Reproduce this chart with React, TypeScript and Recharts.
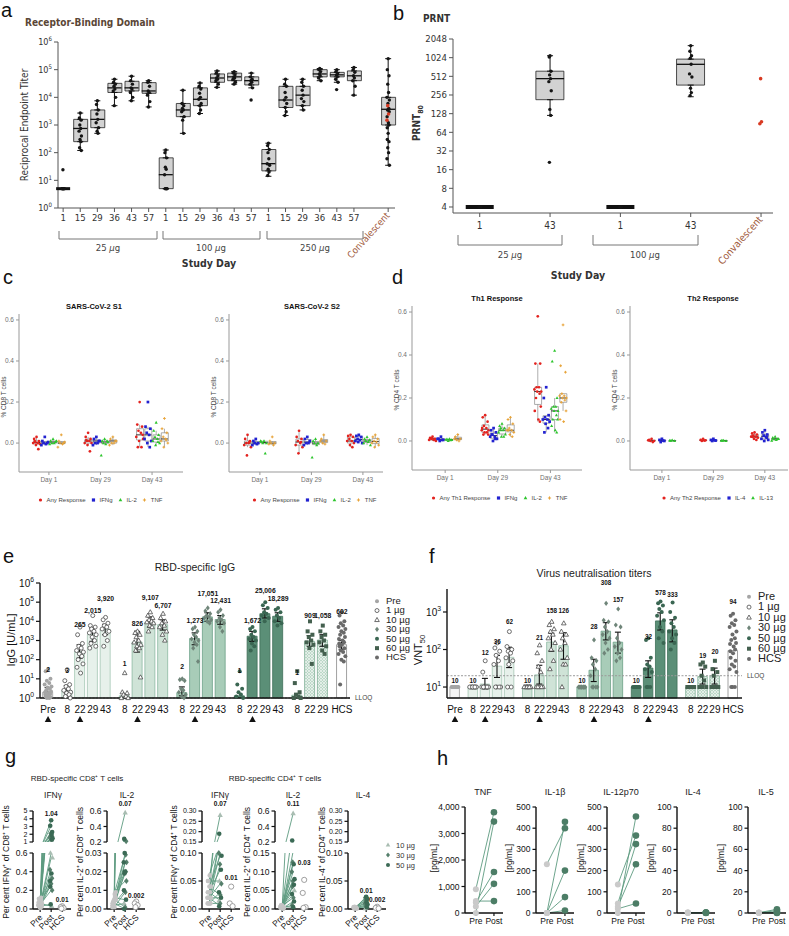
import React from 'react';
import { ComposedChart, Bar, Scatter, XAxis, YAxis, ErrorBar, ReferenceLine, ReferenceDot, Line, Cell } from 'recharts';

const SANS = "'Liberation Sans', Arial, Helvetica, sans-serif";
const NARROW = "'Liberation Sans Narrow', 'DejaVu Sans Condensed', 'Liberation Sans', sans-serif";

/* ---------------- a: Receptor-Binding Domain ---------------- */
const aDays = ['1', '15', '29', '36', '43', '57'];
const aDoses = ['25 µg', '100 µg', '250 µg'];
const aCats = [...aDays, ...aDays, ...aDays, '', 'Convalescent'];
// [low whisker, Q1, median, Q3, high whisker]
const aBox25 = [[5, 5, 5, 5, 5], [120, 250, 750, 1600, 2700], [500, 800, 1600, 3500, 7500], [5000, 15000, 22000, 32000, 45000], [7500, 17000, 22000, 38000, 58000], [4500, 14000, 17000, 34000, 40000]];
const aBox100 = [[5, 5, 16, 65, 125], [500, 2000, 3500, 6000, 18000], [2600, 5000, 8500, 22000, 33000], [23000, 35000, 50000, 70000, 90000], [30000, 40000, 55000, 75000, 85000], [22000, 28000, 40000, 55000, 75000]];
const aBox250 = [[14, 22, 40, 130, 220], [2200, 4300, 8000, 25000, 45000], [3500, 5000, 12000, 25000, 45000], [40000, 55000, 70000, 100000, 110000], [35000, 55000, 65000, 80000, 100000], [12000, 40000, 60000, 90000, 120000]];
const aBoxConv = [35, 1000, 3700, 10000, 250000];
const aPts25 = [
  [5, 5, 5, 5, 5, 5, 5, 24],
  [2700, 1800, 1500, 1000, 750, 600, 400, 300, 250, 150, 120],
  [7500, 5500, 3500, 2500, 1600, 1200, 800, 600, 500],
  [45000, 35000, 30000, 25000, 20000, 17000, 10000, 5000],
  [58000, 40000, 30000, 22000, 20000, 15000, 10000, 7500],
  [40000, 35000, 25000, 17000, 15000, 12000, 7000, 4500],
];
const aPts100 = [
  [125, 100, 65, 30, 25, 16, 5, 5, 5, 5, 5],
  [18000, 6000, 5000, 4000, 3500, 3000, 2000, 1500, 500],
  [33000, 25000, 20000, 14000, 10000, 8500, 6000, 5000, 3500, 2600],
  [90000, 75000, 60000, 50000, 45000, 40000, 30000, 23000],
  [85000, 75000, 65000, 55000, 50000, 45000, 35000, 30000],
  [75000, 55000, 45000, 40000, 35000, 30000, 22000, 8000],
];
const aPts250 = [
  [220, 180, 130, 100, 60, 40, 35, 25, 20, 15],
  [45000, 30000, 25000, 15000, 10000, 8000, 6000, 4300, 3000, 2200],
  [45000, 35000, 25000, 18000, 12000, 9000, 7000, 5000, 3500],
  [110000, 100000, 85000, 70000, 60000, 50000, 40000],
  [100000, 85000, 70000, 65000, 55000, 45000, 35000, 19000],
  [120000, 100000, 80000, 60000, 50000, 40000, 25000, 12000],
];
const aPtsConv = [250000, 100000, 60000, 30000, 15000, 10000, 8000, 6000, 4000, 3500, 3000, 2000, 1200, 1000, 800, 500, 300, 250, 150, 100, 60, 35];
const aRedConv = [5000, 2500, 1500];
const aYTicks = [1, 10, 100, 1000, 10000, 100000, 1000000];

/* ---------------- b: PRNT ---------------- */
const bCats = ['1', '43', '1', '43', 'Convalescent'];
const bDoses = ['25 µg', '100 µg'];
const bBox = [[4, 4, 4, 4, 4], [120, 215, 470, 620, 1100], [4, 4, 4, 4, 4], [240, 370, 800, 970, 1600], null];
const bPts = [
  [4, 4, 4, 4, 4, 4, 4, 4],
  [1100, 1050, 620, 540, 470, 420, 300, 150, 120, 21],
  [4, 4, 4, 4, 4, 4, 4, 4],
  [1600, 1300, 1100, 1000, 800, 560, 500, 330, 280, 250],
  [],
];
const bConv = [470, 95, 88];
const bYTicks = [4, 8, 16, 32, 64, 128, 256, 512, 1024, 2048];

/* ---------------- c / d: T-cell responses ---------------- */
const cDays = ['Day 1', 'Day 29', 'Day 43'];
const c1Any = [[0.03, 0.02, 0.01, 0.005, 0, 0, -0.005, -0.01, -0.03, 0.01], [0.05, 0.03, 0.02, 0.01, 0.01, 0, 0, -0.01, -0.04, 0.015], [0.2, 0.09, 0.08, 0.06, 0.05, 0.03, 0.02, 0.01, -0.02, -0.02, 0.04]];
const c1Ifn = [[0.03, 0.01, 0, 0, -0.005, -0.01, 0.005], [0.03, 0.02, 0.01, 0, 0, -0.01, 0.01], [0.2, 0.08, 0.07, 0.05, 0.04, 0.02, 0.01, 0, -0.02]];
const c1Il2 = [[0.02, 0.01, 0.005, 0, 0, -0.005, 0.01], [0.02, 0.01, 0.01, 0, -0.005, -0.06, 0.005], [0.1, 0.06, 0.04, 0.03, 0.02, 0.01, 0, -0.01, 0.005]];
const c1Tnf = [[0.04, 0.01, 0, 0, -0.005, -0.02, 0.005], [0.03, 0.02, 0.01, 0, 0, -0.01, 0.01], [0.12, 0.07, 0.05, 0.03, 0.02, 0.01, 0, -0.02, 0.015]];
const c2Any = [[0.04, 0.02, 0.01, 0, 0, -0.01, -0.02, -0.06, 0.005], [0.06, 0.03, 0.02, 0.01, 0, -0.01, -0.02, -0.05, 0.005], [0.04, 0.035, 0.03, 0.02, 0.01, 0.01, 0, -0.01, -0.02]];
const c2Ifn = [[0.02, 0.01, 0, 0, -0.005, -0.01], [0.03, 0.02, 0.01, 0, 0, -0.01], [0.04, 0.035, 0.03, 0.02, 0.015, 0.01, 0, 0.005]];
const c2Il2 = [[0.01, 0.005, 0, 0, -0.05, 0.01], [0.02, 0.01, 0, 0, -0.01, -0.07], [0.03, 0.02, 0.015, 0.01, 0.005, 0, -0.01]];
const c2Tnf = [[0.03, 0.01, 0, 0, -0.01, -0.005], [0.04, 0.02, 0.01, 0, -0.005, 0.01], [0.04, 0.03, 0.02, 0.01, 0.005, 0, -0.01, -0.02]];
const d1Any = [[0.02, 0.015, 0.01, 0.01, 0.005, 0.005, 0, 0.012], [0.12, 0.11, 0.09, 0.07, 0.06, 0.05, 0.05, 0.04, 0.04, 0.03, 0.03, 0.06], [0.58, 0.36, 0.36, 0.25, 0.25, 0.24, 0.23, 0.23, 0.22, 0.2, 0.16, 0.14, 0.1, 0.09]];
const d1Ifn = [[0.02, 0.01, 0.005, 0, 0.005, 0.01], [0.06, 0.05, 0.04, 0.03, 0.02, 0.02, 0.01, 0, 0.01, 0.03], [0.25, 0.2, 0.12, 0.11, 0.1, 0.1, 0.09, 0.08, 0.06, 0.04]];
const d1Il2 = [[0.01, 0.008, 0.005, 0, 0.004, 0.006], [0.08, 0.07, 0.06, 0.06, 0.05, 0.04, 0.03, 0.02, 0.02, 0.05], [0.42, 0.37, 0.2, 0.16, 0.16, 0.15, 0.14, 0.14, 0.12, 0.1, 0.1, 0.07, 0.05, 0.04]];
const d1Tnf = [[0.03, 0.02, 0.01, 0.005, 0, 0.01], [0.11, 0.1, 0.08, 0.06, 0.05, 0.05, 0.04, 0.03, 0.02, 0.05], [0.54, 0.35, 0.32, 0.22, 0.21, 0.21, 0.2, 0.2, 0.19, 0.18, 0.14, 0.1, 0.09]];
const d2Any = [[0.01, 0.005, 0, 0, -0.005, 0.003], [0.01, 0.005, 0.003, 0, 0.002], [0.04, 0.035, 0.03, 0.025, 0.02, 0.02, 0.015, 0.01, 0.005, 0.02]];
const d2Il4 = [[0.01, 0.005, 0, -0.005, 0.002], [0.01, 0.005, 0.002, 0, 0.003], [0.05, 0.04, 0.03, 0.025, 0.02, 0.01, 0.005, 0, 0.015]];
const d2Il13 = [[0.004, 0.002, 0, 0.001], [0.003, 0.002, 0, 0.001], [0.02, 0.015, 0.01, 0.008, 0.005, 0.002, 0.01]];

const RED = '#e3231f', BLUE = '#2222d0', GREEN = '#2dc52d', ORANGE = '#e7a338';
const cSeries1 = [
  { name: 'Any Response', color: RED, kind: 'circle', days: c1Any },
  { name: 'IFNg', color: BLUE, kind: 'square', days: c1Ifn },
  { name: 'IL-2', color: GREEN, kind: 'tri', days: c1Il2 },
  { name: 'TNF', color: ORANGE, kind: 'plus', days: c1Tnf },
];
const cSeries2 = [
  { name: 'Any Response', color: RED, kind: 'circle', days: c2Any },
  { name: 'IFNg', color: BLUE, kind: 'square', days: c2Ifn },
  { name: 'IL-2', color: GREEN, kind: 'tri', days: c2Il2 },
  { name: 'TNF', color: ORANGE, kind: 'plus', days: c2Tnf },
];
const dSeries1 = [
  { name: 'Any Th1 Response', color: RED, kind: 'circle', days: d1Any },
  { name: 'IFNg', color: BLUE, kind: 'square', days: d1Ifn },
  { name: 'IL-2', color: GREEN, kind: 'tri', days: d1Il2 },
  { name: 'TNF', color: ORANGE, kind: 'plus', days: d1Tnf },
];
const dSeries2 = [
  { name: 'Any Th2 Response', color: RED, kind: 'circle', days: d2Any },
  { name: 'IL-4', color: BLUE, kind: 'square', days: d2Il4 },
  { name: 'IL-13', color: GREEN, kind: 'tri', days: d2Il13 },
];

/* ---------------- e / f: IgG and neutralisation ---------------- */
const vCats = ['Pre', '', '8', '22', '29', '43', '', '8', '22', '29', '43', '', '8', '22', '29', '43', '', '8', '22', '29', '43', '', '8', '22', '29', '', 'HCS'];
const vGrp = [0, -1, 1, 1, 1, 1, -1, 2, 2, 2, 2, -1, 3, 3, 3, 3, -1, 4, 4, 4, 4, -1, 5, 5, 5, -1, 6];
const vArrow = [true, false, false, true, false, false, false, false, true, false, false, false, false, true, false, false, false, false, true, false, false, false, false, false, false, false, false];
const vLegend = ['Pre', '1 µg', '10 µg', '30 µg', '50 µg', '60 µg', 'HCS'];

const eBar = [2, null, 2.5, 265, 2015, 3920, null, 1.3, 826, 9107, 6707, null, 1.9, 1273, 17051, 12431, null, 1.3, 1672, 25006, 18289, null, 1.4, 909, 1058, null, 602];
const eLbl = ['2', '', '3', '265', '2,015', '3,920', '', '1', '826', '9,107', '6,707', '', '2', '1,273', '17,051', '12,431', '', '1', '1,672', '25,006', '18,289', '', '1', '909', '1,058', '', '602'];
const eLblY = [29, null, 25.5, 7150, 38300, 161000, null, 66, 8060, 182000, 69800, null, 41, 11500, 294000, 127000, null, 25.5, 11500, 422000, 161000, null, 20, 21000, 21000, null, 34000];
const eErr = [[1.2, 3.5], null, [1.8, 4.5], [120, 600], [900, 4500], [2000, 7000], null, null, [250, 3000], [5000, 17000], [3500, 12000], null, [1.3, 3.8], [600, 2500], [10000, 28000], [7000, 20000], null, null, [900, 3000], [15000, 45000], [10000, 28000], null, null, [500, 1800], [500, 2000], null, [350, 1000]];
const ePts = [
  [30, 25, 10, 8, 6, 5, 4, 3.5, 3, 2.5, 2.2, 2, 1.8, 1.6, 1.5, 1.3, 1.2, 1.1, 1, 1], [],
  [30, 8, 5, 4, 3, 2.5, 2, 1.8, 1.5, 1.2, 1],
  [5000, 2000, 700, 500, 400, 300, 250, 200, 150, 100, 60, 40, 20],
  [20000, 6000, 5000, 4000, 3000, 2500, 2000, 1500, 1000, 700, 500, 400],
  [16000, 12000, 8000, 6000, 5000, 4000, 3000, 2000, 1000, 500], [],
  [20, 2, 1.8, 1.5, 1.2, 1, 1],
  [3000, 2500, 2000, 1500, 1000, 800, 600, 500, 400, 300, 12],
  [30000, 20000, 15000, 12000, 10000, 9000, 8000, 6000, 5000, 3000],
  [25000, 15000, 10000, 8000, 6000, 5000, 3000, 2000, 1000], [],
  [10, 9, 8, 3, 2.5, 2, 1.5, 1.2, 1],
  [5000, 4000, 3000, 2000, 1500, 1200, 1000, 800, 600, 400, 80],
  [50000, 35000, 25000, 20000, 17000, 15000, 12000, 10000, 8000],
  [40000, 30000, 20000, 15000, 12000, 10000, 8000, 5000, 3000], [],
  [25, 5, 3, 2, 1.5, 1.2, 1],
  [5000, 4000, 3000, 2000, 1500, 1200, 1000, 700, 500, 300],
  [100000, 70000, 50000, 30000, 25000, 20000, 15000, 10000],
  [50000, 40000, 30000, 20000, 15000, 10000, 8000, 6000], [],
  [25, 6, 2, 1.5, 1.2, 1, 1],
  [10000, 3000, 2000, 1500, 1000, 800, 600, 400, 60],
  [6000, 3000, 2000, 1500, 1000, 800, 500, 300, 200], [],
  [30000, 20000, 10000, 8000, 6000, 5000, 4000, 3000, 2500, 2000, 1500, 1200, 1000, 800, 700, 600, 500, 400, 300, 250, 200, 150, 100, 80, 5],
];
const eYTicks = [1, 10, 100, 1000, 10000, 100000, 1000000];

const fBar = [10, null, 10, 12, 36, 62, null, 10, 21, 158, 126, null, 10, 28, 308, 157, null, 10, 32, 578, 333, null, 10, 19, 20, null, 94];
const fLbl = ['10', '', '10', '12', '36', '62', '', '10', '21', '158', '126', '', '10', '28', '308', '157', '', '10', '32', '578', '333', '', '10', '19', '20', '', '94'];
const fLblY = [14.5, null, 14.5, 80, 158, 540, null, 14.5, 205, 1070, 1070, null, 14.5, 400, 5900, 2090, null, 14.5, 215, 3240, 2820, null, 14.5, 67, 86, null, 1860];
const fErr = [null, null, null, [9, 17], [18, 70], [33, 115], null, null, [12, 38], [90, 270], [55, 280], null, null, [14, 55], [180, 520], [80, 290], null, null, [18, 50], [330, 950], [160, 620], null, null, [12, 30], [12, 32], null, null];
const fPts = [
  [10, 10, 10, 10, 10, 10, 10, 10, 10, 10], [],
  [10, 10, 10, 10, 10, 10, 10, 10, 10],
  [50, 25, 10, 10, 10, 10, 10, 10, 10, 10],
  [150, 110, 90, 70, 50, 40, 10, 10, 10, 10],
  [300, 120, 100, 90, 80, 60, 50, 40, 10, 10], [],
  [10, 10, 10, 10, 10, 10, 10, 10, 10],
  [130, 80, 50, 35, 25, 10, 10, 10, 10, 10],
  [550, 450, 350, 300, 250, 200, 150, 100, 50, 30],
  [500, 300, 250, 200, 150, 100, 60, 40, 40, 10], [],
  [10, 10, 10, 10, 10, 10, 10, 10, 10],
  [180, 60, 50, 40, 30, 20, 10, 10, 10, 10],
  [1700, 600, 550, 400, 300, 250, 200, 150, 100, 80],
  [1200, 450, 400, 200, 150, 120, 100, 80, 60, 50], [],
  [10, 10, 10, 10, 10, 10, 10, 10, 10],
  [200, 180, 60, 40, 35, 30, 25, 10, 10, 10],
  [1900, 1700, 1500, 1200, 1000, 800, 600, 400, 300, 200, 150],
  [1800, 1000, 700, 500, 400, 300, 250, 200, 150, 100], [],
  [10, 10, 10, 10, 10, 10, 10, 10, 10],
  [45, 40, 35, 20, 15, 10, 10, 10],
  [50, 30, 25, 20, 10, 10, 10, 10], [],
  [900, 800, 600, 500, 450, 400, 300, 250, 200, 180, 150, 140, 120, 100, 90, 80, 60, 50, 40, 35, 30, 25, 10, 10, 10],
];
const fYTicks = [10, 100, 1000];

/* ---------------- g: RBD-specific T cells (pre, post, dose) ---------------- */
const gCats = ['Pre', 'Post', 'HCS'];
const gCd8Ifn = [[0.02, 3.8, 50], [0.05, 3.1, 50], [0.03, 2.3, 50], [0.08, 2.1, 30], [0.1, 1.9, 50], [0.04, 1.6, 30], [0.06, 1.5, 50], [0.02, 1.4, 30], [0.12, 1.3, 50], [0.05, 0.6, 10], [0.03, 0.55, 10], [0.07, 0.42, 30], [0.01, 0.38, 50], [0.09, 0.33, 30], [0.04, 0.3, 50], [0.02, 0.27, 30], [0.11, 0.24, 50], [0.05, 0.2, 30], [0.03, 0.05, 50], [0.06, 0.03, 10]];
const gCd8IfnHcs = [0.03, 0.02, 0.01, 0.005];
const gCd8Il2 = [[0.004, 0.58, 10], [0.002, 0.24, 50], [0.006, 0.21, 30], [0.003, 0.03, 50], [0.008, 0.029, 30], [0.001, 0.025, 50], [0.005, 0.025, 30], [0.002, 0.02, 50], [0.007, 0.02, 30], [0.004, 0.019, 50], [0.009, 0.015, 30], [0.003, 0.01, 50], [0.001, 0.009, 30], [0.006, 0.005, 50], [0.002, 0.003, 10], [0.005, 0.001, 30], [0.003, 0, 50]];
const gCd8Il2Hcs = [0.004, 0.003, 0.002, 0.001];
const gCd4Ifn = [[0.02, 0.28, 10], [0.05, 0.19, 50], [0.01, 0.13, 50], [0.03, 0.125, 30], [0.06, 0.12, 50], [0.02, 0.1, 30], [0.04, 0.095, 50], [0.01, 0.08, 30], [0.03, 0.07, 50], [0.05, 0.05, 10], [0.02, 0.045, 30], [0.01, 0.03, 50], [0.04, 0.025, 30], [0.02, 0.02, 50], [0.03, 0.015, 10], [0.01, 0.01, 30], [0.02, 0.005, 50]];
const gCd4IfnHcs = [0.04, 0.01, 0.005];
const gCd4Il2 = [[0.005, 0.57, 10], [0.01, 0.22, 50], [0.003, 0.155, 50], [0.008, 0.125, 30], [0.002, 0.12, 50], [0.006, 0.1, 30], [0.004, 0.08, 50], [0.01, 0.075, 30], [0.002, 0.065, 50], [0.007, 0.06, 30], [0.005, 0.05, 10], [0.003, 0.04, 50], [0.008, 0.03, 30], [0.001, 0.02, 50], [0.004, 0.01, 30], [0.006, 0.005, 50]];
const gCd4Il2Hcs = [0.078, 0.043, 0.005, 0.003];
const gCd4Il4 = [[0.002, 0.022, 50], [0.003, 0.02, 30], [0.001, 0.018, 50], [0.004, 0.015, 30], [0.002, 0.012, 50], [0.003, 0.01, 30], [0.001, 0.008, 50], [0.002, 0.005, 30], [0.003, 0.003, 50], [0.001, 0.001, 10]];
const gCd4Il4Hcs = [0.004, 0.002, 0.001];

/* ---------------- h: cytokines [pg/mL] (pre, post) ---------------- */
const hCats = ['Pre', 'Post'];
const hTnf = [[900, 3800], [0, 3450], [400, 1550], [250, 1100], [450, 450]];
const hIl1b = [[0, 430], [230, 400], [0, 200], [0, 75], [0, 12]];
const hIl12 = [[0, 455], [135, 365], [45, 325], [30, 230], [20, 45]];
const hIl4 = [[0.5, 0.3], [0.3, 0.5], [0.2, 0.2], [0.4, 0.1], [0.1, 0.4]];
const hIl5 = [[0.3, 3.5], [0.2, 2.2], [0.4, 0.6], [0.1, 0.3], [0.3, 0.1]];

/* ================= helpers ================= */
const JIT = [0, -2.4, 2.4, -1.2, 1.2, -3.4, 3.4, -0.6, 1.8, -1.8, 3.0, -3.0, 0.6, 2.1, -2.7];

function sym(kind: string, cx: number, cy: number, s: number, color: string, stroke?: string) {
  const sk = stroke || color;
  switch (kind) {
    case 'open':
      return <circle cx={cx} cy={cy} r={s} fill="#fff" stroke={sk} strokeWidth={0.8} />;
    case 'square':
      return <rect x={cx - s} y={cy - s} width={2 * s} height={2 * s} fill={color} />;
    case 'tri':
      return <polygon points={`${cx},${cy - s * 1.25} ${cx - s * 1.15},${cy + s * 0.8} ${cx + s * 1.15},${cy + s * 0.8}`} fill={color} />;
    case 'otri':
      return <polygon points={`${cx},${cy - s * 1.25} ${cx - s * 1.15},${cy + s * 0.8} ${cx + s * 1.15},${cy + s * 0.8}`} fill="#fff" stroke={sk} strokeWidth={0.8} />;
    case 'dia':
      return <polygon points={`${cx},${cy - s * 1.3} ${cx + s},${cy} ${cx},${cy + s * 1.3} ${cx - s},${cy}`} fill={color} />;
    case 'plus':
      return <path d={`M${cx - s},${cy}H${cx + s}M${cx},${cy - s}V${cy + s}`} stroke={color} strokeWidth={1} />;
    default:
      return <circle cx={cx} cy={cy} r={s} fill={color} />;
  }
}

const shapeOf = (kind: string, s: number, color: string, jx = 1, stroke?: string) => (p: any) => {
  if (p == null || p.cx == null || p.cy == null) return <g />;
  const d = p.payload || p;
  const j = typeof d.j === 'number' ? JIT[d.j % JIT.length] * jx : 0;
  return sym(kind, p.cx + j, p.cy, s, color, stroke);
};

const noShape = () => <g />;

const medLine = (half: number, color: string, sw: number, flatH = 0) => (p: any) => {
  if (p == null || p.cx == null || p.cy == null) return <g />;
  const d = p.payload || p;
  if (flatH > 0 && d.q1 === d.q3) {
    return <rect x={p.cx - half} y={p.cy - flatH / 2} width={half * 2} height={flatH} fill={color} />;
  }
  return <line x1={p.cx - half} x2={p.cx + half} y1={p.cy} y2={p.cy} stroke={color} strokeWidth={sw} />;
};

const txtShape = (t: string, fs: number, color = '#111') => (p: any) => (
  <text x={p.cx} y={p.cy} dy={fs * 0.35} textAnchor="middle" fontSize={fs} fontWeight="bold" fill={color} fontFamily={SANS}>{t}</text>
);

const quant = (s: number[], q: number) => {
  const pos = (s.length - 1) * q;
  const lo = Math.floor(pos);
  const hi = Math.ceil(pos);
  return s[lo] + (s[hi] - s[lo]) * (pos - lo);
};

const Micro = ({ text }: { text: string }) => {
  const parts = text.split('µ');
  return <>{parts[0]}<tspan fontStyle="italic">µ</tspan>{parts[1]}</>;
};

/* ================= box plot on log axis (a, b) ================= */
function BoxLog(props: any) {
  const { left, top, width, height, margin, yW, xh, xDomain, cats, boxes, pts, red, yDomain, yTicks, yTick, barSize, cap, flatH, tickFs, tickDy, convDy, convAngle } = props;
  const rows = boxes
    .map((b: any, i: number) => (b ? { x: i, q1: b[1], med: b[2], q3: b[3], box: [b[1], b[3]], wl: [b[1] - b[0], 0], wh: [0, b[4] - b[3]] } : null))
    .filter(Boolean);
  const ticksX = cats.map((c: string, i: number) => (c ? i : -1)).filter((i: number) => i >= 0);
  const ptRows = pts.flatMap((arr: number[], i: number) => arr.map((v, k) => ({ x: i, y: v, j: k })));
  const redRows = red.map((v: number, k: number) => ({ x: cats.length - 1, y: v, j: k + 3 }));
  const xTick = (p: any) => {
    const lab = cats[p.payload.value];
    if (lab === 'Convalescent') {
      const tx = p.x + 2;
      const ty = p.y + convDy;
      return (
        <text x={tx} y={ty} transform={`rotate(${convAngle} ${tx} ${ty})`} textAnchor="end" fontSize={tickFs} fill="#a0593a" fontFamily={NARROW}>Convalescent</text>
      );
    }
    return <text x={p.x} y={p.y} dy={tickDy} textAnchor="middle" fontSize={tickFs} fill="#333" fontFamily={NARROW}>{lab}</text>;
  };
  return (
    <div style={{ position: 'absolute', left, top }}>
      <ComposedChart width={width} height={height} data={rows} margin={margin}>
        <XAxis type="number" dataKey="x" domain={xDomain} ticks={ticksX} interval={0} tick={xTick} tickSize={4} tickLine={{ stroke: '#555' }} axisLine={{ stroke: '#555' }} height={xh} />
        <YAxis type="number" scale="log" domain={yDomain} ticks={yTicks} interval={0} tick={yTick} tickSize={4} tickLine={{ stroke: '#555' }} axisLine={{ stroke: '#555' }} width={yW} />
        <Scatter data={rows} dataKey="q1" shape={noShape} isAnimationActive={false}>
          <ErrorBar dataKey="wl" direction="y" width={cap} stroke="#111" strokeWidth={1} />
        </Scatter>
        <Scatter data={rows} dataKey="q3" shape={noShape} isAnimationActive={false}>
          <ErrorBar dataKey="wh" direction="y" width={cap} stroke="#111" strokeWidth={1} />
        </Scatter>
        <Bar dataKey="box" barSize={barSize} fill="#d2d2d2" stroke="#222" strokeWidth={0.8} isAnimationActive={false} />
        <Scatter data={rows} dataKey="med" shape={medLine(barSize / 2, '#111', 1.3, flatH)} isAnimationActive={false} />
        <Scatter data={ptRows} dataKey="y" shape={shapeOf('circle', 1.7, '#151515', 0.35)} isAnimationActive={false} />
        <Scatter data={redRows} dataKey="y" shape={shapeOf('circle', 1.8, '#d83a22', 0.35)} isAnimationActive={false} />
      </ComposedChart>
    </div>
  );
}

const powTick = (fs: number, color: string, family: string) => (p: any) => {
  const e = Math.round(Math.log10(p.payload.value));
  return (
    <text x={p.x} y={p.y} dy={fs * 0.38} textAnchor="end" fontSize={fs} fill={color} fontFamily={family}>
      10<tspan dy={-fs * 0.45} fontSize={fs * 0.68}>{e}</tspan>
    </text>
  );
};
const plainTick = (fs: number, color: string, family: string) => (p: any) => (
  <text x={p.x} y={p.y} dy={fs * 0.36} textAnchor="end" fontSize={fs} fill={color} fontFamily={family}>{p.payload.value}</text>
);

/* ================= c/d: ggplot-like box + jitter ================= */
function Cyto(props: any) {
  const { left, top, width, height, mt, yW, xDomain, yDomain, series, offsets } = props;
  const rows: any[] = [];
  series.forEach((s: any, si: number) =>
    s.days.forEach((arr: number[], d: number) => {
      const st = [...arr].sort((a, b) => a - b);
      const q1 = quant(st, 0.25);
      const med = quant(st, 0.5);
      const q3 = quant(st, 0.75);
      const iqr = q3 - q1;
      const lo = Math.min(...st.filter((v) => v >= q1 - 1.5 * iqr));
      const hi = Math.max(...st.filter((v) => v <= q3 + 1.5 * iqr));
      rows.push({ x: d + offsets[si], q1, q3, med, box: [q1, q3], wl: [q1 - lo, 0], wh: [0, hi - q3] });
    })
  );
  const pointsOf = (s: any, si: number) => s.days.flatMap((arr: number[], d: number) => arr.map((v, k) => ({ x: d + offsets[si], y: v, j: k })));
  const tickStyle = { fontSize: 6.5, fill: '#707070', fontFamily: SANS };
  return (
    <div style={{ position: 'absolute', left, top }}>
      <ComposedChart width={width} height={height} data={rows} margin={{ top: mt, right: 1, left: 0, bottom: 0 }}>
        <XAxis type="number" dataKey="x" domain={xDomain} ticks={[0, 1, 2]} interval={0} tickFormatter={(v: number) => cDays[v]} tick={tickStyle} tickSize={3} tickLine={{ stroke: '#999' }} axisLine={{ stroke: '#999' }} height={15} />
        <YAxis type="number" domain={yDomain} ticks={[0, 0.2, 0.4, 0.6]} interval={0} tickFormatter={(v: number) => v.toFixed(1)} tick={tickStyle} tickSize={3} tickLine={{ stroke: '#999' }} axisLine={{ stroke: '#999' }} width={yW} />
        <Scatter data={rows} dataKey="q1" shape={noShape} isAnimationActive={false}>
          <ErrorBar dataKey="wl" direction="y" width={0} stroke="#8a8a8a" strokeWidth={0.7} />
        </Scatter>
        <Scatter data={rows} dataKey="q3" shape={noShape} isAnimationActive={false}>
          <ErrorBar dataKey="wh" direction="y" width={0} stroke="#8a8a8a" strokeWidth={0.7} />
        </Scatter>
        <Bar dataKey="box" barSize={7} fill="rgba(255,255,255,0.3)" stroke="#8a8a8a" strokeWidth={0.7} isAnimationActive={false} />
        <Scatter data={rows} dataKey="med" shape={medLine(3.5, '#333', 1)} isAnimationActive={false} />
        {series.map((s: any, si: number) => (
          <Scatter key={si} data={pointsOf(s, si)} dataKey="y" shape={shapeOf(s.kind, 1.35, s.color, 1)} isAnimationActive={false} />
        ))}
      </ComposedChart>
    </div>
  );
}

/* ================= e/f: bars + dots on log axis ================= */
const BAR_FILL = ['#f4f4f4', '#e7f1eb', '#cfe3d7', '#a8ccb8', '#5b8f77', 'HATCH', '#ffffff'];
const BAR_STROKE = ['#9b9b9b', '#a4c6b4', '#8bb9a1', '#6b9f86', '#3e6f58', '#7fae96', '#8a8a8a'];
const PT_KIND = ['circle', 'open', 'otri', 'dia', 'circle', 'square', 'circle'];
const PT_COLOR = ['#a5a5a5', '#4a4a4a', '#4a4a4a', '#6f8579', '#3a6652', '#44604f', '#6a6a6a'];

function BarDot(props: any) {
  const { left, top, width, height, mt, mr, yW, xh, xDomain, cats, grp, bar, err, pts, lbl, lblY, arrow, yDomain, yTicks, lloq, hatchId, barSize, lblSize, tickFs } = props;
  // blank separators between dose groups take half a slot
  const xs: number[] = [];
  let blanks = 0;
  cats.forEach((c: string, i: number) => {
    if (!c) blanks += 1;
    xs.push(i - 0.5 * blanks);
  });
  const rows = cats
    .map((c: string, i: number) => (c ? { x: xs[i], i, v: bar[i], g: grp[i], err: err[i] ? [bar[i] - err[i][0], err[i][1] - bar[i]] : null } : null))
    .filter(Boolean);
  const idxOf = new Map(rows.map((r: any) => [r.x, r.i]));
  const ticksX = rows.map((r: any) => r.x);
  const ptRows = pts.flatMap((arr: number[], i: number) => arr.map((v, k) => ({ x: xs[i], y: v, j: k, g: grp[i] })));
  const xTick = (p: any) => {
    const i: any = idxOf.get(p.payload.value);
    return (
      <g>
        <text x={p.x} y={p.y} dy={11} textAnchor="middle" fontSize={tickFs} fill="#111" fontFamily={SANS}>{cats[i]}</text>
        {arrow[i] && <polygon points={`${p.x},${p.y + 14} ${p.x - 3.3},${p.y + 20} ${p.x + 3.3},${p.y + 20}`} fill="#111" />}
      </g>
    );
  };
  return (
    <div style={{ position: 'absolute', left, top }}>
      <ComposedChart width={width} height={height} data={rows} margin={{ top: mt, right: mr, left: 0, bottom: 0 }}>
        <defs>
          <pattern id={hatchId} width="3" height="3" patternUnits="userSpaceOnUse">
            <rect width="3" height="3" fill="#bcd8c8" />
            <path d="M0,0 L3,3 M3,0 L0,3" stroke="#f1f7f3" strokeWidth="0.7" />
          </pattern>
        </defs>
        <XAxis type="number" dataKey="x" domain={xDomain} ticks={ticksX} interval={0} tick={xTick} tickLine={false} tickSize={2} axisLine={{ stroke: '#111', strokeWidth: 1.4 }} height={xh} />
        <YAxis type="number" scale="log" domain={yDomain} ticks={yTicks} interval={0} tick={powTick(10, '#111', SANS)} tickSize={4} tickLine={{ stroke: '#111', strokeWidth: 1.2 }} axisLine={{ stroke: '#111', strokeWidth: 1.4 }} width={yW} />
        <ReferenceLine y={lloq} stroke="#9a9a9a" strokeDasharray="2 1.5" strokeWidth={1} label={{ value: 'LLOQ', position: 'right', fontSize: 6.5, fill: '#444', fontFamily: SANS }} />
        <Bar dataKey="v" barSize={barSize} strokeWidth={0.8} isAnimationActive={false}>
          {rows.map((r: any, i: number) => (
            <Cell key={i} fill={r.g === 5 ? `url(#${hatchId})` : BAR_FILL[r.g]} stroke={BAR_STROKE[r.g]} />
          ))}
          <ErrorBar dataKey="err" direction="y" width={3} stroke="#111" strokeWidth={1.1} />
        </Bar>
        {PT_KIND.map((kind, g) => (
          <Scatter key={g} data={ptRows.filter((r: any) => r.g === g)} dataKey="y" shape={shapeOf(kind, 2, PT_COLOR[g], 1)} isAnimationActive={false} />
        ))}
        {rows.map((r: any) => (
          <ReferenceDot key={'l' + r.i} x={r.x} y={lblY[r.i]} r={0} ifOverflow="visible" shape={txtShape(lbl[r.i], lblSize)} />
        ))}
      </ComposedChart>
    </div>
  );
}

/* ================= g: broken-axis paired plots ================= */
const DOSE_KIND: any = { 10: 'tri', 30: 'dia', 50: 'circle' };
const DOSE_COLOR: any = { 10: '#a9bdb2', 30: '#557f6b', 50: '#3b6a55' };
const LINE_GREEN = '#5d9b80';

function GSeg(props: any) {
  const { left, top, width, height, mt, mb, yW, xh, domain, ticks, fmt, pairs, hcs, labels, showX, tickFs } = props;
  const inR = (v: number) => v >= domain[0] && v <= domain[1];
  const pre = pairs.map((p: number[], k: number) => ({ x: 0, y: p[0], j: k })).filter((r: any) => inR(r.y));
  const post = (d: number) => pairs.map((p: number[], k: number) => ({ x: 1, y: p[1], j: k, d: p[2] })).filter((r: any) => r.d === d && inR(r.y));
  const hc = hcs.map((v: number, k: number) => ({ x: 2, y: v, j: k })).filter((r: any) => inR(r.y));
  const xTick = (p: any) => {
    const tx = p.x + 3;
    const ty = p.y + 4;
    return <text x={tx} y={ty} transform={`rotate(-45 ${tx} ${ty})`} textAnchor="end" fontSize={8.5} fill="#111" fontFamily={SANS}>{gCats[p.payload.value]}</text>;
  };
  return (
    <div style={{ position: 'absolute', left, top }}>
      <ComposedChart width={width} height={height} margin={{ top: mt, right: 2, left: 0, bottom: mb }}>
        <XAxis type="number" dataKey="x" domain={[-0.65, 2.8]} ticks={[0, 1, 2]} interval={0} hide={!showX} tick={xTick} tickSize={3} tickLine={{ stroke: '#111', strokeWidth: 1.2 }} axisLine={{ stroke: '#111', strokeWidth: 1.4 }} height={showX ? xh : 0} />
        <YAxis yAxisId="l" type="number" domain={domain} ticks={ticks} interval={0} allowDataOverflow tickFormatter={fmt} tick={{ fontSize: tickFs, fill: '#111', fontFamily: SANS }} tickSize={3.5} tickLine={{ stroke: '#111', strokeWidth: 1.2 }} axisLine={{ stroke: '#111', strokeWidth: 1.4 }} width={yW} />
        <YAxis yAxisId="s" type="number" domain={domain} hide />
        {pairs.map((p: number[], k: number) => (
          <Line key={k} yAxisId="l" data={[{ x: 0, y: p[0] }, { x: 1, y: p[1] }]} dataKey="y" stroke={LINE_GREEN} strokeWidth={0.9} dot={false} isAnimationActive={false} />
        ))}
        <Scatter yAxisId="s" data={pre} dataKey="y" shape={shapeOf('circle', 2.3, '#c4c4c4', 0.5)} isAnimationActive={false} />
        {[10, 30, 50].map((d) => (
          <Scatter key={d} yAxisId="s" data={post(d)} dataKey="y" shape={shapeOf(DOSE_KIND[d], 2.3, DOSE_COLOR[d], 0.4)} isAnimationActive={false} />
        ))}
        <Scatter yAxisId="s" data={hc} dataKey="y" shape={shapeOf('open', 2.6, '#888', 0.6)} isAnimationActive={false} />
        {labels.map((l: any, k: number) => (
          <ReferenceDot key={k} yAxisId="l" x={l[0]} y={l[1]} r={0} ifOverflow="visible" shape={txtShape(l[2], 6.5)} />
        ))}
      </ComposedChart>
    </div>
  );
}

function GPlot({ ax, up, lo, pairs, hcs, upLabels, loLabels }: any) {
  const yW = 26;
  return (
    <>
      <GSeg left={ax - yW} top={797} width={yW + 40} height={50} mt={14} mb={5} yW={yW} xh={0} domain={up.domain} ticks={up.ticks} fmt={up.fmt} pairs={pairs} hcs={hcs} labels={upLabels} showX={false} tickFs={up.ticks.length > 3 ? 7 : 8.5} />
      <GSeg left={ax - yW} top={847} width={yW + 40} height={90} mt={6} mb={0} yW={yW} xh={28} domain={lo.domain} ticks={lo.ticks} fmt={lo.fmt} pairs={pairs} hcs={hcs} labels={loLabels} showX={true} tickFs={8.5} />
    </>
  );
}

/* ================= h: paired cytokines ================= */
function HPlot({ ax, domain, ticks, fmt, pairs }: any) {
  const yW = 30;
  const pre = pairs.map((p: number[], k: number) => ({ x: 0, y: p[0], j: k }));
  const post = pairs.map((p: number[], k: number) => ({ x: 1, y: p[1], j: k }));
  return (
    <div style={{ position: 'absolute', left: ax - yW, top: 800 }}>
      <ComposedChart width={yW + 40} height={129} margin={{ top: 7, right: 2, left: 0, bottom: 0 }}>
        <XAxis type="number" dataKey="x" domain={[-0.6, 1.5]} ticks={[0, 1]} interval={0} tickFormatter={(v: number) => hCats[v]} tick={{ fontSize: 8.5, fill: '#111', fontFamily: SANS }} tickSize={3} tickLine={{ stroke: '#111', strokeWidth: 1.2 }} axisLine={{ stroke: '#111', strokeWidth: 1.4 }} height={16} />
        <YAxis type="number" domain={domain} ticks={ticks} interval={0} tickFormatter={fmt} tick={{ fontSize: 8.5, fill: '#111', fontFamily: SANS }} tickSize={3.5} tickLine={{ stroke: '#111', strokeWidth: 1.2 }} axisLine={{ stroke: '#111', strokeWidth: 1.4 }} width={yW} />
        {pairs.map((p: number[], k: number) => (
          <Line key={k} data={[{ x: 0, y: p[0] }, { x: 1, y: p[1] }]} dataKey="y" stroke={LINE_GREEN} strokeWidth={0.9} dot={false} isAnimationActive={false} />
        ))}
        <Scatter data={pre} dataKey="y" shape={shapeOf('circle', 3, '#cacaca', 0)} isAnimationActive={false} />
        <Scatter data={post} dataKey="y" shape={shapeOf('circle', 3.3, '#4c7d66', 0)} isAnimationActive={false} />
      </ComposedChart>
    </div>
  );
}

/* ================= legends ================= */
const CytoLegend = ({ cx, y, series }: any) => (
  <div style={{ position: 'absolute', left: cx, top: y, transform: 'translate(-50%, -50%)', display: 'flex', alignItems: 'center', gap: 5, whiteSpace: 'nowrap', fontFamily: SANS, fontSize: 6, color: '#444' }}>
    {series.map((s: any, i: number) => (
      <span key={i} style={{ display: 'inline-flex', alignItems: 'center', gap: 3 }}>
        <svg width={6} height={6}>{sym(s.kind, 3, 3, 1.6, s.color)}</svg>
        {s.name}
      </span>
    ))}
  </div>
);

const DoseLegend = ({ x, y, step, fs }: any) => (
  <svg style={{ position: 'absolute', left: 0, top: 0, pointerEvents: 'none' }} width={789} height={936}>
    {vLegend.map((n, g) => (
      <g key={g}>
        {sym(PT_KIND[g], x, y + g * step - fs * 0.3, 2, PT_COLOR[g])}
        <text x={x + 9} y={y + g * step} fontSize={fs} fill="#222" fontFamily={SANS}>{n}</text>
      </g>
    ))}
  </svg>
);

/* ================= overlay texts ================= */
function Overlay() {
  const letter = (t: string, x: number, y: number) => <text x={x} y={y} fontSize={20} fill="#111" fontFamily={SANS}>{t}</text>;
  const brk = (x1: number, x2: number, y1: number, y2: number) => <path d={`M${x1},${y1}V${y2}H${x2}V${y1}`} fill="none" stroke="#777" strokeWidth={1} />;
  const rot = (t: any, x: number, y: number, fs: number, props: any = {}) => (
    <text x={x} y={y} transform={`rotate(-90 ${x} ${y})`} textAnchor="middle" fontSize={fs} fontFamily={SANS} fill="#222" {...props}>{t}</text>
  );
  const ctr = (t: any, x: number, y: number, fs: number, props: any = {}) => (
    <text x={x} y={y} textAnchor="middle" fontSize={fs} fontFamily={SANS} fill="#222" {...props}>{t}</text>
  );
  return (
    <svg style={{ position: 'absolute', left: 0, top: 0, pointerEvents: 'none' }} width={789} height={936}>
      {letter('a', 1, 17)}
      {letter('b', 393, 20)}
      {letter('c', 3, 284)}
      {letter('d', 392, 284)}
      {letter('e', 3, 563)}
      {letter('f', 429, 563)}
      {letter('g', 5, 763)}
      {letter('h', 437, 765)}

      {/* a */}
      <text x={25} y={26} fontSize={10} fontWeight="bold" fill="#5a4636" fontFamily={NARROW}>Receptor-Binding Domain</text>
      {rot('Reciprocal Endpoint Titer', 28, 125, 10, { fontFamily: NARROW, fill: '#333' })}
      {brk(59, 157, 231, 239)}
      {brk(163, 260, 231, 239)}
      {brk(267, 363, 231, 239)}
      {aDoses.map((d, i) => ctr(<Micro text={d} />, [108, 211, 315][i], 251, 9.5, { fontFamily: NARROW, fill: '#444', key: 'ad' + i }))}
      {ctr('Study Day', 209, 267, 10.5, { fontFamily: NARROW, fontWeight: 'bold', fill: '#333' })}

      {/* b */}
      <text x={423} y={22} fontSize={10} fontWeight="bold" fill="#333" fontFamily={NARROW}>PRNT</text>
      <text x={420} y={123} transform="rotate(-90 420 123)" textAnchor="middle" fontSize={10} fontWeight="bold" fill="#333" fontFamily={NARROW}>
        PRNT<tspan dy={3} fontSize={7}>80</tspan>
      </text>
      {brk(458, 562, 235, 245)}
      {brk(593, 698, 235, 245)}
      {bDoses.map((d, i) => ctr(<Micro text={d} />, [510, 645][i], 258, 9.5, { fontFamily: NARROW, fill: '#444', key: 'bd' + i }))}
      {ctr('Study Day', 578, 279, 10.5, { fontFamily: NARROW, fontWeight: 'bold', fill: '#333' })}

      {/* c, d */}
      {ctr('SARS-CoV-2 S1', 94, 309, 7.5, { fontWeight: 'bold', fill: '#111' })}
      {ctr('SARS-CoV-2 S2', 312, 309, 7.5, { fontWeight: 'bold', fill: '#111' })}
      {rot('% CD8 T cells', 6, 397, 6.5, { fill: '#444' })}
      {rot('% CD8 T cells', 216, 397, 6.5, { fill: '#444' })}
      {ctr('Th1 Response', 497, 301, 7.5, { fontWeight: 'bold', fill: '#111' })}
      {ctr('Th2 Response', 713, 301, 7.5, { fontWeight: 'bold', fill: '#111' })}
      {rot('% CD4 T cells', 399, 390, 6.5, { fill: '#444' })}
      {rot('% CD4 T cells', 617, 390, 6.5, { fill: '#444' })}

      {/* e, f */}
      {ctr('RBD-specific IgG', 195, 571, 10.5)}
      {rot('IgG [U/mL]', 15, 640, 11, { fill: '#111' })}
      {ctr('Virus neutralisation titers', 594, 577, 10.5)}
      <text x={422} y={650} transform="rotate(-90 422 650)" textAnchor="middle" fontSize={11} fill="#111" fontFamily={SANS}>
        VNT<tspan dy={3} fontSize={7.5}>50</tspan>
      </text>

      {/* g */}
      {ctr('RBD-specific CD8⁺ T cells', 77, 781, 8)}
      {ctr('RBD-specific CD4⁺ T cells', 275, 781, 8)}
      {ctr('IFNγ', 53, 798, 8.5)}
      {ctr('IL-2', 127, 798, 8.5)}
      {ctr('IFNγ', 220, 798, 8.5)}
      {ctr('IL-2', 293, 798, 8.5)}
      {ctr('IL-4', 363, 798, 8.5)}
      {rot('Per cent IFNγ⁺ of CD8⁺ T cells', 9, 862, 8.5, { fill: '#111' })}
      {rot('Per cent IL-2⁺ of CD8⁺ T cells', 83, 862, 8.5, { fill: '#111' })}
      {rot('Per cent IFNγ⁺ of CD4⁺ T cells', 177, 862, 8.5, { fill: '#111' })}
      {rot('Per cent IL-2⁺ of CD4⁺ T cells', 250, 862, 8.5, { fill: '#111' })}
      {rot('Per cent IL-4⁺ of CD4⁺ T cells', 325, 862, 8.5, { fill: '#111' })}
      {[10, 30, 50].map((d, i) => (
        <g key={'gl' + d}>
          {sym(DOSE_KIND[d], 388, 845 + i * 10, 2, DOSE_COLOR[d])}
          <text x={396} y={848 + i * 10} fontSize={7.5} fill="#333" fontFamily={SANS}>{`${d} µg`}</text>
        </g>
      ))}

      {/* h */}
      {ctr('TNF', 483, 795, 9)}
      {ctr('IL-1β', 555, 795, 9)}
      {ctr('IL-12p70', 621, 795, 9)}
      {ctr('IL-4', 693, 795, 9)}
      {ctr('IL-5', 766, 795, 9)}
      {[437, 512, 584, 654, 724].map((x, i) => <g key={'hy' + i}>{rot('[pg/mL]', x, 858, 8.5, { fill: '#111' })}</g>)}
    </svg>
  );
}

const f2 = (v: number) => v.toFixed(2);
const f1 = (v: number) => v.toFixed(1);
const f0 = (v: number) => String(v);
const fK = (v: number) => v.toLocaleString('en-US');

export default function App() {
  return (
    <div style={{ position: 'absolute', left: 0, top: 0, width: 789, height: 936, background: '#fff', overflow: 'hidden', fontFamily: SANS }}>
      {/* a */}
      <BoxLog
        left={0} top={0} width={400} height={268} margin={{ top: 42, right: 5, left: 18, bottom: 0 }} yW={40} xh={60}
        xDomain={[-0.3, 19.4]} cats={aCats}
        boxes={[...aBox25, ...aBox100, ...aBox250, null, aBoxConv]}
        pts={[...aPts25, ...aPts100, ...aPts250, [], aPtsConv]}
        red={aRedConv} yDomain={[1, 1000000]} yTicks={aYTicks} yTick={powTick(9, '#333', NARROW)}
        barSize={14} cap={3} flatH={3} tickFs={9.5} tickDy={7} convDy={2} convAngle={-48}
      />
      {/* b */}
      <BoxLog
        left={393} top={0} width={396} height={273} margin={{ top: 39, right: 16, left: 20, bottom: 0 }} yW={40} xh={60}
        xDomain={[-0.38, 4.17]} cats={bCats} boxes={bBox} pts={bPts} red={bConv}
        yDomain={[3.2, 2048]} yTicks={bYTicks} yTick={plainTick(9.5, '#333', NARROW)}
        barSize={28} cap={3} flatH={4} tickFs={10} tickDy={10} convDy={1} convAngle={-48}
      />
      {/* c, d */}
      <Cyto left={0} top={300} width={184} height={187} mt={14} yW={19} xDomain={[-0.58, 2.6]} yDomain={[-0.141, 0.629]} series={cSeries1} offsets={[-0.24, -0.08, 0.08, 0.24]} />
      <Cyto left={200} top={300} width={184} height={187} mt={14} yW={29} xDomain={[-0.6, 2.39]} yDomain={[-0.141, 0.629]} series={cSeries2} offsets={[-0.24, -0.08, 0.08, 0.24]} />
      <Cyto left={390} top={290} width={193} height={195} mt={16} yW={22} xDomain={[-0.63, 2.6]} yDomain={[-0.135, 0.628]} series={dSeries1} offsets={[-0.24, -0.08, 0.08, 0.24]} />
      <Cyto left={600} top={290} width={189} height={195} mt={16} yW={30} xDomain={[-0.62, 2.45]} yDomain={[-0.135, 0.628]} series={dSeries2} offsets={[-0.2, 0, 0.2]} />
      <CytoLegend cx={100} y={500} series={cSeries1} />
      <CytoLegend cx={314} y={500} series={cSeries2} />
      <CytoLegend cx={499} y={498} series={dSeries1} />
      <CytoLegend cx={717} y={498} series={dSeries2} />
      {/* e */}
      <BarDot
        left={0} top={575} width={400} height={155} mt={8} mr={50} yW={40} xh={32} xDomain={[-0.63, 23.63]}
        cats={vCats} grp={vGrp} bar={eBar} err={eErr} pts={ePts} lbl={eLbl} lblY={eLblY} arrow={vArrow}
        yDomain={[1, 1000000]} yTicks={eYTicks} lloq={1} hatchId="hatchE" barSize={10} lblSize={6.8} tickFs={10}
      />
      {/* f */}
      <BarDot
        left={400} top={575} width={389} height={155} mt={14} mr={47} yW={47} xh={32} xDomain={[-0.66, 23.74]}
        cats={vCats} grp={vGrp} bar={fBar} err={fErr} pts={fPts} lbl={fLbl} lblY={fLblY} arrow={vArrow}
        yDomain={[5.1, 4100]} yTicks={fYTicks} lloq={20} hatchId="hatchF" barSize={9.5} lblSize={6.3} tickFs={10}
      />
      <DoseLegend x={377} y={604} step={9.4} fs={9.5} />
      <DoseLegend x={749} y={600} step={10.4} fs={11} />
      {/* g */}
      <GPlot ax={33} pairs={gCd8Ifn} hcs={gCd8IfnHcs}
        up={{ domain: [1, 5], ticks: [1, 2, 3, 4, 5], fmt: f0 }} lo={{ domain: [0, 0.6], ticks: [0, 0.2, 0.4, 0.6], fmt: f1 }}
        upLabels={[[1, 4.6, '1.04']]} loLabels={[[2, 0.1, '0.01']]} />
      <GPlot ax={107} pairs={gCd8Il2} hcs={gCd8Il2Hcs}
        up={{ domain: [0.2, 0.6], ticks: [0.2, 0.4, 0.6], fmt: f1 }} lo={{ domain: [0, 0.03], ticks: [0, 0.01, 0.02, 0.03], fmt: f2 }}
        upLabels={[[1, 0.69, '0.07']]} loLabels={[[2, 0.007, '0.002']]} />
      <GPlot ax={202} pairs={gCd4Ifn} hcs={gCd4IfnHcs}
        up={{ domain: [0.15, 0.3], ticks: [0.15, 0.2, 0.25, 0.3], fmt: f2 }} lo={{ domain: [0, 0.1], ticks: [0, 0.05, 0.1], fmt: f2 }}
        upLabels={[[1, 0.335, '0.07']]} loLabels={[[2, 0.055, '0.01']]} />
      <GPlot ax={275} pairs={gCd4Il2} hcs={gCd4Il2Hcs}
        up={{ domain: [0.2, 0.6], ticks: [0.2, 0.4, 0.6], fmt: f1 }} lo={{ domain: [0, 0.15], ticks: [0, 0.05, 0.1, 0.15], fmt: f2 }}
        upLabels={[[1, 0.69, '0.11']]} loLabels={[[2, 0.123, '0.03']]} />
      <GPlot ax={348} pairs={gCd4Il4} hcs={gCd4Il4Hcs}
        up={{ domain: [0.15, 0.3], ticks: [0.15, 0.2, 0.25, 0.3], fmt: f2 }} lo={{ domain: [0, 0.1], ticks: [0, 0.05, 0.1], fmt: f2 }}
        upLabels={[]} loLabels={[[1, 0.032, '0.01'], [2, 0.016, '0.002']]} />
      {/* h */}
      <HPlot ax={465} domain={[0, 4000]} ticks={[0, 1000, 2000, 3000, 4000]} fmt={fK} pairs={hTnf} />
      <HPlot ax={536} domain={[0, 500]} ticks={[0, 100, 200, 300, 400, 500]} fmt={f0} pairs={hIl1b} />
      <HPlot ax={607} domain={[0, 500]} ticks={[0, 100, 200, 300, 400, 500]} fmt={f0} pairs={hIl12} />
      <HPlot ax={677} domain={[0, 100]} ticks={[0, 20, 40, 60, 80, 100]} fmt={f0} pairs={hIl4} />
      <HPlot ax={748} domain={[0, 100]} ticks={[0, 20, 40, 60, 80, 100]} fmt={f0} pairs={hIl5} />
      <Overlay />
    </div>
  );
}
